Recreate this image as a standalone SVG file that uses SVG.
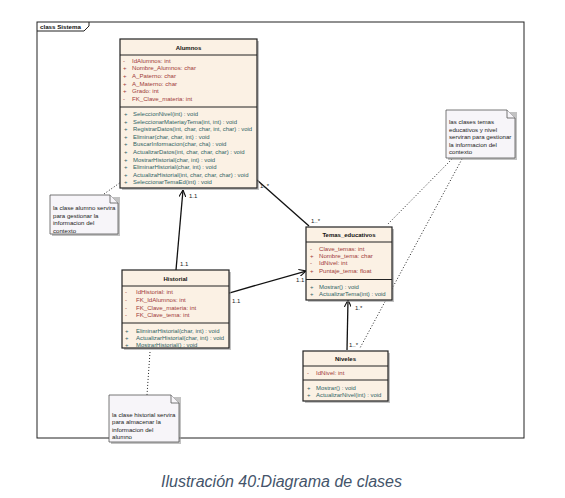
<svg xmlns="http://www.w3.org/2000/svg" width="565" height="498" viewBox="0 0 565 498">
<defs>
<style>
.frame{fill:none;stroke:#222;stroke-width:1}
.box{fill:#FBF1E4;stroke:#222;stroke-width:1.2}
.shadow{fill:#9a9a9a;opacity:0.6}
.sep{stroke:#222;stroke-width:1}
.title{font-family:"Liberation Sans",Arial,sans-serif;font-size:6px;font-weight:bold;fill:#111;text-anchor:middle}
.attr{font-family:"Liberation Sans",Arial,sans-serif;font-size:6.1px;fill:#A03A3A}
.meth{font-family:"Liberation Sans",Arial,sans-serif;font-size:5.95px;fill:#2F6464}
.lbl{font-family:"Liberation Sans",Arial,sans-serif;font-size:6px;fill:#222}
.note{fill:#F7F5F9;stroke:#555;stroke-width:0.8}
.ntext{font-family:"Liberation Sans",Arial,sans-serif;font-size:6.1px;fill:#222}
.assoc{stroke:#111;stroke-width:1.3;fill:none}
.dot{stroke:#222;stroke-width:1;fill:none;stroke-dasharray:1 2}
.cap{font-family:"Liberation Sans",Arial,sans-serif;font-size:16px;font-style:italic;fill:#44546A}
</style>
<marker id="open" viewBox="0 0 10 10" refX="10" refY="5" markerWidth="7" markerHeight="7" orient="auto" markerUnits="userSpaceOnUse">
<path d="M0,0 L10,5 L0,10" fill="none" stroke="#111" stroke-width="1.6"/>
</marker>
</defs>
<rect width="565" height="498" fill="#fff"/>
<g id="frame">
<rect class="frame" x="37" y="22" width="487" height="416"/>
<path class="frame" d="M37,31 L84,31 L89,26 L89,22"/>
<text x="40" y="29" style="font-family:'Liberation Sans',Arial,sans-serif;font-size:6.2px;font-weight:bold;fill:#111">class Sistema</text>
</g>
<g id="connectors">
<line class="assoc" x1="176" y1="270" x2="183" y2="190" marker-end="url(#open)"/>
<text class="lbl" x="189" y="198">1.1</text>
<text class="lbl" x="180" y="266">1.1</text>
<line class="assoc" x1="257" y1="180" x2="309" y2="226"/>
<text class="lbl" x="260" y="188">1..*</text>
<text class="lbl" x="311" y="223">1..*</text>
<line class="assoc" x1="229" y1="293" x2="306" y2="271" marker-end="url(#open)"/>
<text class="lbl" x="232" y="303">1.1</text>
<text class="lbl" x="296" y="282">1.1</text>
<line class="assoc" x1="347" y1="350" x2="348" y2="300" marker-end="url(#open)"/>
<text class="lbl" x="355" y="310">1.*</text>
<text class="lbl" x="349" y="347">1..*</text>
<line class="dot" x1="104" y1="194" x2="121" y2="182"/>
<line class="dot" x1="150" y1="352" x2="147" y2="395"/>
<line class="dot" x1="452" y1="159" x2="387" y2="225"/>
<line class="dot" x1="462" y1="159" x2="360" y2="348"/>
</g>
<g id="Alumnos">
<rect class="shadow" x="122" y="41" width="137" height="149"/>
<rect class="box" x="120" y="39" width="137" height="149"/>
<line class="sep" x1="120" y1="55" x2="257" y2="55"/>
<line class="sep" x1="120" y1="107" x2="257" y2="107"/>
<text class="title" x="188.5" y="49.5">Alumnos</text>
<text class="attr" x="123" y="62.5">-</text><text class="attr" x="132" y="62.5">IdAlumnos: int</text>
<text class="attr" x="123" y="70.2">+</text><text class="attr" x="132" y="70.2">Nombre_Alumnos: char</text>
<text class="attr" x="123" y="77.9">+</text><text class="attr" x="132" y="77.9">A_Paterno: char</text>
<text class="attr" x="123" y="85.6">+</text><text class="attr" x="132" y="85.6">A_Materno: char</text>
<text class="attr" x="123" y="93.3">+</text><text class="attr" x="132" y="93.3">Grado: int</text>
<text class="attr" x="123" y="101">-</text><text class="attr" x="132" y="101">FK_Clave_materia: int</text>
<text class="meth" x="124" y="116">+</text><text class="meth" x="133" y="116">SeleccionNivel(int) : void</text>
<text class="meth" x="124" y="123.6">+</text><text class="meth" x="133" y="123.6">SeleccionarMateriayTema(int, int) : void</text>
<text class="meth" x="124" y="131.2">+</text><text class="meth" x="133" y="131.2">RegistrarDatos(int, char, char, int, char) : void</text>
<text class="meth" x="124" y="138.8">+</text><text class="meth" x="133" y="138.8">Eliminar(char, char, int) : void</text>
<text class="meth" x="124" y="146.4">+</text><text class="meth" x="133" y="146.4">BuscarInformacion(char, cha) : void</text>
<text class="meth" x="124" y="154">+</text><text class="meth" x="133" y="154">ActualizarDatos(int, char, char, char) : void</text>
<text class="meth" x="124" y="161.6">+</text><text class="meth" x="133" y="161.6">MostrarHistorial(char, int) : void</text>
<text class="meth" x="124" y="169.2">+</text><text class="meth" x="133" y="169.2">EliminarHistorial(char, int) : void</text>
<text class="meth" x="124" y="176.8">+</text><text class="meth" x="133" y="176.8">ActualizaHistorial(int, char, char, char) : void</text>
<text class="meth" x="124" y="184.4">+</text><text class="meth" x="133" y="184.4">SeleccionarTemaEd(int) : void</text>
</g>
<g id="Historial">
<rect class="shadow" x="124" y="272" width="107" height="78"/>
<rect class="box" x="122" y="270" width="107" height="78"/>
<line class="sep" x1="122" y1="286" x2="229" y2="286"/>
<line class="sep" x1="122" y1="323" x2="229" y2="323"/>
<text class="title" x="175.5" y="280.5">Historial</text>
<text class="attr" x="125" y="294.3">-</text><text class="attr" x="136" y="294.3">IdHistorial: int</text>
<text class="attr" x="125" y="302">-</text><text class="attr" x="136" y="302">FK_IdAlumnos: int</text>
<text class="attr" x="125" y="309.7">-</text><text class="attr" x="136" y="309.7">FK_Clave_materia: int</text>
<text class="attr" x="125" y="317.3">-</text><text class="attr" x="136" y="317.3">FK_Clave_tema: int</text>
<text class="meth" x="125" y="332.7">+</text><text class="meth" x="136" y="332.7">EliminarHistorial(char, int) : void</text>
<text class="meth" x="125" y="339.7">+</text><text class="meth" x="136" y="339.7">ActualizarHistorial(char, int) : void</text>
<text class="meth" x="125" y="347.3">+</text><text class="meth" x="136" y="347.3">MostrarHistorial() : void</text>
</g>
<g id="Temas_educativos">
<rect class="shadow" x="308" y="229" width="86" height="73"/>
<rect class="box" x="306" y="227" width="86" height="73"/>
<line class="sep" x1="306" y1="242" x2="392" y2="242"/>
<line class="sep" x1="306" y1="279.5" x2="392" y2="279.5"/>
<text class="title" x="349" y="236.5">Temas_educativos</text>
<text class="attr" x="310" y="251.3">-</text><text class="attr" x="319" y="251.3">Clave_temas: int</text>
<text class="attr" x="310" y="258.3">+</text><text class="attr" x="319" y="258.3">Nombre_tema: char</text>
<text class="attr" x="310" y="265.3">-</text><text class="attr" x="319" y="265.3">IdNivel: int</text>
<text class="attr" x="310" y="272.7">+</text><text class="attr" x="319" y="272.7">Puntaje_tema: float</text>
<text class="meth" x="310" y="288.7">+</text><text class="meth" x="319" y="288.7">Mostrar() : void</text>
<text class="meth" x="310" y="296">+</text><text class="meth" x="319" y="296">ActualizarTema(int) : void</text>
</g>
<g id="Niveles">
<rect class="shadow" x="305" y="353" width="85" height="50"/>
<rect class="box" x="303" y="351" width="85" height="50"/>
<line class="sep" x1="303" y1="366" x2="388" y2="366"/>
<line class="sep" x1="303" y1="380" x2="388" y2="380"/>
<text class="title" x="345.5" y="360.5">Niveles</text>
<text class="attr" x="307" y="374.7">-</text><text class="attr" x="316" y="374.7">IdNivel: int</text>
<text class="meth" x="307" y="390.3">+</text><text class="meth" x="316" y="390.3">Mostrar() : void</text>
<text class="meth" x="307" y="397">+</text><text class="meth" x="316" y="397">ActualizarNivel(int) : void</text>
</g>
<g id="nota_alumno">
<path class="shadow" d="M52,197 L120,197 L120,236 L52,236 Z"/>
<path class="note" d="M50,195 L110,195 L118,203 L118,234 L50,234 Z"/>
<path class="note" d="M110,195 L110,203 L118,203"/>
<text class="ntext" x="53" y="210">la clase alumno servira</text>
<text class="ntext" x="53" y="217.5">para gestionar la</text>
<text class="ntext" x="53" y="225">informacion del</text>
<text class="ntext" x="53" y="232.5">contexto</text>
</g>
<g id="nota_historial">
<path class="shadow" d="M111,397 L181,397 L181,444 L111,444 Z"/>
<path class="note" d="M109,395 L171,395 L179,403 L179,442 L109,442 Z"/>
<path class="note" d="M171,395 L171,403 L179,403"/>
<text class="ntext" x="112" y="417">la clase historial servira</text>
<text class="ntext" x="112" y="424.3">para almacenar la</text>
<text class="ntext" x="112" y="431.6">informacion del</text>
<text class="ntext" x="112" y="439">alumno</text>
</g>
<g id="nota_temas">
<path class="shadow" d="M448,112 L517,112 L517,160 L448,160 Z"/>
<path class="note" d="M446,110 L507,110 L515,118 L515,158 L446,158 Z"/>
<path class="note" d="M507,110 L507,118 L515,118"/>
<text class="ntext" x="449" y="124">las clases temas</text>
<text class="ntext" x="449" y="131.5">educativos y nivel</text>
<text class="ntext" x="449" y="139">serviran para gestionar</text>
<text class="ntext" x="449" y="146.5">la informacion del</text>
<text class="ntext" x="449" y="154">contexto</text>
</g>
<text class="cap" x="161" y="487">Ilustración 40:Diagrama de clases</text>
</svg>
